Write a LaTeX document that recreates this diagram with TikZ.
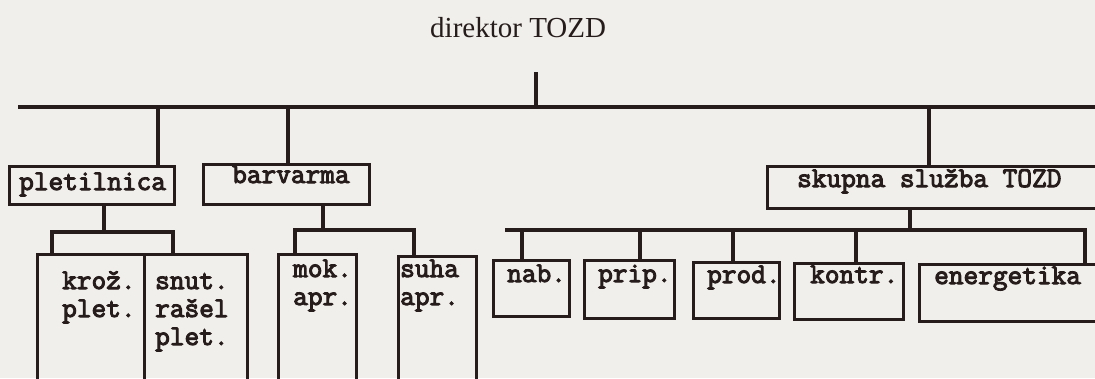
\documentclass[tikz,border=0pt]{standalone}
\usepackage{fontspec}
\newfontfamily\printf{Liberation Serif}
\newfontfamily\typew{Latin Modern Mono}[FakeBold=3.5]
\usetikzlibrary{positioning}
\definecolor{paper}{RGB}{240,239,236}
\definecolor{ink}{RGB}{38,28,28}
\tikzset{
  box/.style={draw=ink, line width=3.2pt, inner sep=0pt, anchor=north west},
  link/.style={draw=ink, line width=3.2pt},
  tw/.style={font=\typew\fontsize{28.5}{30}\selectfont, text=ink, inner sep=0pt, anchor=base west},
}

\begin{document}
\begin{tikzpicture}[x=1pt,y=-1pt]
\useasboundingbox (0,0) rectangle (1095,378);
\clip (0,0) rectangle (1095,378);
\fill[paper] (0,0) rectangle (1095,378);

%% direktor
\node[font=\printf\fontsize{29}{32}\selectfont, text=ink, inner sep=0pt, anchor=base west] (dir) at (430,37) {direktor TOZD};
\coordinate (dirfoot) at (536,72);
\coordinate (busL) at (18,107);
\coordinate (busR) at (1110,107);
\draw[link] (busL) -- (busR);
\draw[link] (dirfoot) -- (dirfoot |- busL);

%% prva raven
\node[box, minimum width=165, minimum height=38] (plet) at (8,165) {};
\node[tw] (pletT) at (19,190) {pletilnica};
\node[box, minimum width=166, minimum height=40] (barv) at (202,163) {};
\node[tw] (barvT) at (232,183) {barvarma};
\node[box, minimum width=360, minimum height=42] (skup) at (766,165) {};
\node[tw] (skupT) at (797,187) {skupna služba TOZD};

\coordinate (tapP) at (158,107);
\coordinate (tapB) at (288,107);
\coordinate (tapS) at (929,107);
\draw[link] (tapP) -- (tapP |- plet.north);
\draw[link] (tapB) -- (tapB |- barv.north);
\draw[link] (tapS) -- (tapS |- skup.north);

%% pletilnica
\node[box, minimum width=107, minimum height=160] (kroz) at (36,253) {};
\node[box, minimum width=103, minimum height=160] (snut) at (143,253) {};
\coordinate (jP) at (104,232);
\coordinate (kL) at (52,232);
\coordinate (kR) at (173,232);
\draw[link] (jP |- plet.south) -- (jP);
\draw[link] (kL |- kroz.north) -- (kL) -- (kR) -- (kR |- snut.north);
\foreach \t [count=\i from 0] in {krož.,plet.}
  \node[tw] (kroz\i) at (62,{289+28*\i}) {\t};
\foreach \t [count=\i from 0] in {snut.,rašel,plet.}
  \node[tw] (snut\i) at (155,{289+28*\i}) {\t};

%% barvarna
\node[box, minimum width=78, minimum height=160] (mok) at (277,253) {};
\node[box, minimum width=78, minimum height=160] (suha) at (397,255) {};
\coordinate (jB) at (323,230);
\coordinate (mL) at (295,230);
\coordinate (sR) at (414,230);
\draw[link] (jB |- barv.south) -- (jB);
\draw[link] (mL |- mok.north) -- (mL) -- (sR) -- (sR |- suha.north);
\foreach \t [count=\i from 0] in {mok.,apr.}
  \node[tw] (mok\i) at (293,{277+28*\i}) {\t};
\foreach \t [count=\i from 0] in {suha,apr.}
  \node[tw] (suha\i) at (400,{277+28*\i}) {\t};

%% skupna sluzba
\node[box, minimum width=76, minimum height=56] (nab) at (492,259) {};
\node[box, minimum width=90, minimum height=58] (prip) at (583,259) {};
\node[box, minimum width=86, minimum height=56] (prod) at (692,261) {};
\node[box, minimum width=109, minimum height=56] (kontr) at (793,262) {};
\node[box, minimum width=200, minimum height=57] (ener) at (918,263) {};
\node[tw] (nabT) at (507,282) {nab.};
\node[tw] (pripT) at (598,282) {prip.};
\node[tw] (prodT) at (707,283) {prod.};
\node[tw] (kontrT) at (810,283) {kontr.};
\node[tw] (enerT) at (934,284) {energetika};

\coordinate (jS) at (910,230);
\coordinate (barL) at (505,230);
\coordinate (barR) at (1085,230);
\draw[link] (jS |- skup.south) -- (jS);
\draw[link] (barL) -- (barR) -- (barR |- ener.north);
\foreach \n/\x in {nab/522,prip/640,prod/733,kontr/856}{
  \coordinate (d\n) at (\x,230);
  \draw[link] (d\n) -- (d\n |- \n.north);
}

\end{tikzpicture}
\end{document}
